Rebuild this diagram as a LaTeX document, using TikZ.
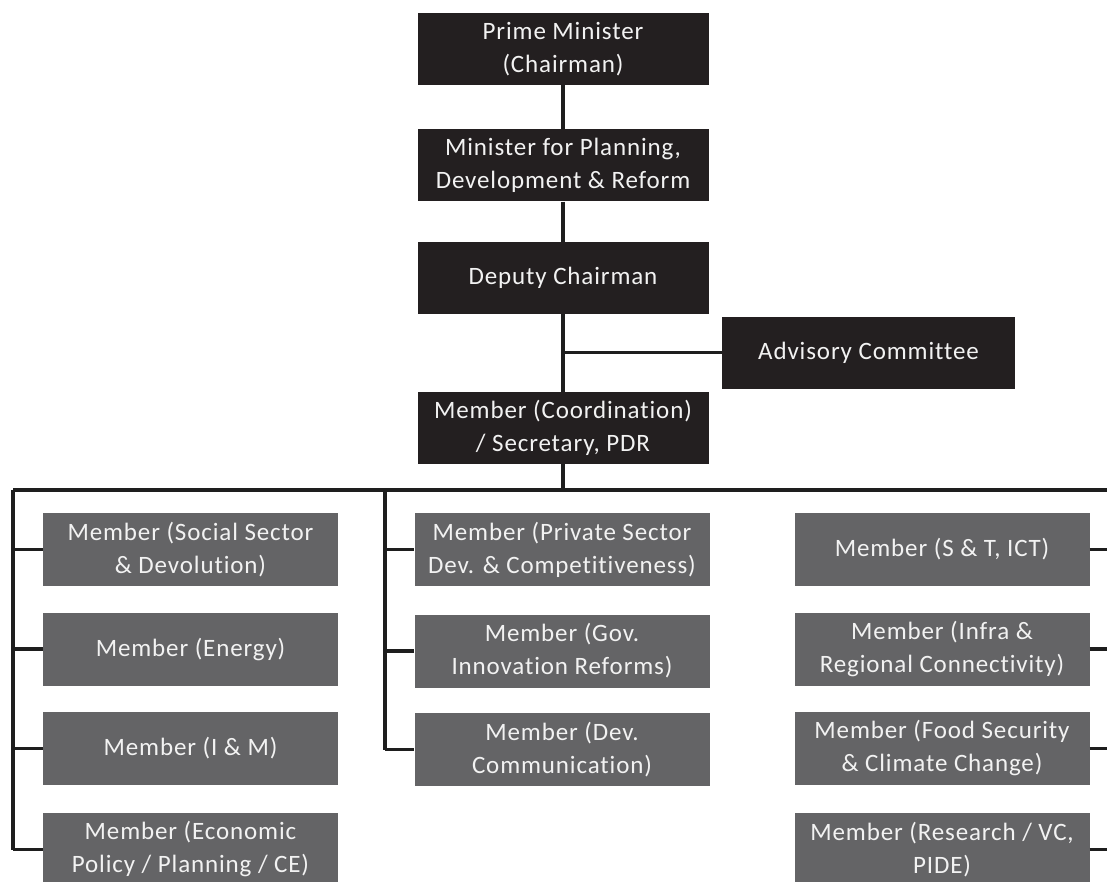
\documentclass[tikz,border=0pt]{standalone}
\usepackage{fontspec}
\setmainfont{Carlito}[LetterSpace=3.5,RawFeature={-liga}]
\definecolor{boxblack}{RGB}{35,31,32}
\definecolor{boxgray}{RGB}{100,100,102}
\definecolor{boxtext}{RGB}{242,242,242}
\definecolor{linecol}{RGB}{30,30,30}
\begin{document}
\begin{tikzpicture}[x=1pt,y=-1pt,
  topbox/.style={fill=boxblack, text=boxtext, minimum width=291pt, minimum height=72pt, inner sep=0pt, align=center, font=\fontsize{25}{33}\selectfont},
  memberbox/.style={fill=boxgray, text=boxtext, minimum width=295pt, minimum height=73pt, inner sep=0pt, align=center, font=\fontsize{25}{33}\selectfont},
  conn/.style={draw=linecol, line width=3.5pt}]
\useasboundingbox (0,0) rectangle (1107,882);
\clip (0,0) rectangle (1107,882);
% top chain
\node[topbox] (pm) at (563,49) {Prime Minister\\(Chairman)};
\node[topbox] (min) at (563,165.5) {Minister for Planning,\\Development \& Reform};
\node[topbox] (dep) at (563,278) {Deputy Chairman};
\node[topbox, minimum width=293pt] (adv) at (868.5,352.5) {Advisory Committee};
\node[topbox] (coord) at (563,428) {Member (Coordination)\\/ Secretary, PDR};
% left column
\node[memberbox] (l1) at (190.5,549.5) {Member (Social Sector\\\& Devolution)};
\node[memberbox] (l2) at (190.5,649) {Member (Energy)};
\node[memberbox] (l3) at (190.5,748.5) {Member (I \& M)};
\node[memberbox] (l4) at (190.5,849.5) {Member (Economic\\Policy / Planning / CE)};
% middle column
\node[memberbox] (m1) at (562,549.5) {Member (Private Sector\\Dev. \& Competitiveness)};
\node[memberbox] (m2) at (562,651) {Member (Gov.\\Innovation Reforms)};
\node[memberbox] (m3) at (562,749.5) {Member (Dev.\\Communication)};
% right column
\node[memberbox] (r1) at (942,549.5) {Member (S \& T, ICT)};
\node[memberbox] (r2) at (942,649) {Member (Infra \&\\Regional Connectivity)};
\node[memberbox] (r3) at (942,748.5) {Member (Food Security\\\& Climate Change)};
\node[memberbox] (r4) at (942,849.5) {Member (Research / VC,\\PIDE)};
% bus coordinates
\coordinate (busL) at (13,490);
\coordinate (busR) at (1125,490);
\coordinate (midX) at (385,490);
% connectors top
\draw[conn] (pm) -- (min);
\draw[conn] (min) -- (dep);
\draw[conn] (dep) -- (coord);
\draw[conn] (adv.west) -- (adv.west -| dep.south);
\draw[conn] (coord.south) -- (coord.south |- busL);
\draw[conn] (busL) -- (busR);
% left column
\draw[conn] (busL) -- (busL |- l4.west);
\foreach \n in {l1,l2,l3,l4} \draw[conn] (busL |- \n.west) -- (\n.west);
% middle column
\draw[conn] (midX) -- (midX |- m3.west);
\foreach \n in {m1,m2,m3} \draw[conn] (midX |- \n.west) -- (\n.west);
% right column
\draw[conn] (busR) -- (busR |- r4.east);
\foreach \n in {r1,r2,r3,r4} \draw[conn] (\n.east) -- (busR |- \n.east);
\end{tikzpicture}
\end{document}
